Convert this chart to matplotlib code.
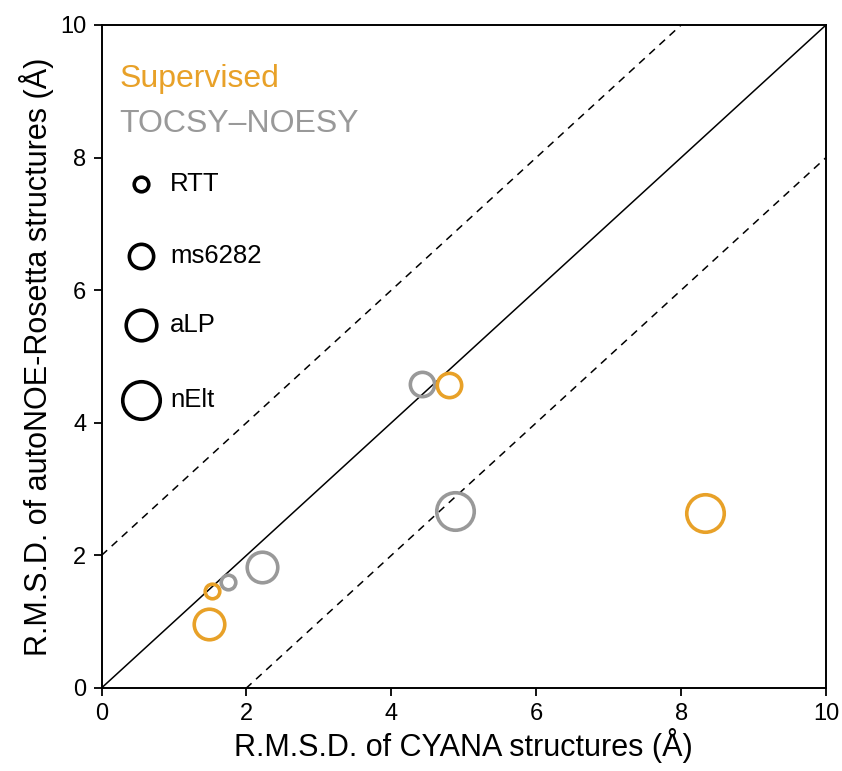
import matplotlib
matplotlib.use("Agg")
import matplotlib.pyplot as plt

plt.rcParams['font.family'] = ['Liberation Sans', 'DejaVu Sans']

# Per-protein backbone R.M.S.D. values (Å)
proteins = ["RTT", "ms6282", "aLP", "nElt"]
marker_sizes = [10.5, 17.5, 22, 27]

supervised_cyana = [1.52, 4.79, 1.49, 8.33]
supervised_auto = [1.46, 4.57, 0.96, 2.64]

tocsy_cyana = [1.75, 4.42, 2.22, 4.88]
tocsy_auto = [1.60, 4.59, 1.83, 2.67]

orange = "#E8A128"
grey = "#999999"

fig = plt.figure(figsize=(8.42, 7.71), dpi=100)
ax = fig.add_axes([101.5 / 842, (771 - 688) / 771, (826 - 101.5) / 842, (688 - 25) / 771])

ax.set_xlim(0, 10)
ax.set_ylim(0, 10)

# reference lines: identity and +/- 2 Å
xs = [0, 10]
ax.plot(xs, [0, 10], color="black", lw=1.1, zorder=1)
ax.plot(xs, [2, 12], color="black", lw=1.1, ls=(0, (5, 4)), zorder=1)
ax.plot(xs, [-2, 8], color="black", lw=1.1, ls=(0, (5, 4)), zorder=1)

for x, y, ms in zip(tocsy_cyana, tocsy_auto, marker_sizes):
    ax.plot(x, y, "o", ms=ms, mfc="none", mec=grey, mew=2.6, zorder=3)
for x, y, ms in zip(supervised_cyana, supervised_auto, marker_sizes):
    ax.plot(x, y, "o", ms=ms, mfc="none", mec=orange, mew=2.6, zorder=3)

# legend drawn as text and markers
ax.text(0.25, 9.18, "Supervised", color=orange, fontsize=23, va="center", ha="left")
ax.text(0.25, 8.5, "TOCSY\u2013NOESY", color=grey, fontsize=23, va="center", ha="left")
legend_y = [7.6, 6.52, 5.47, 4.35]
for name, ms, ly in zip(proteins, marker_sizes, legend_y):
    ax.plot(0.54, ly, "o", ms=ms, mfc="none", mec="black", mew=2.6, clip_on=False)
    ax.text(0.95, ly, name, fontsize=18.5, va="center", ha="left")

ax.set_xticks([0, 2, 4, 6, 8, 10])
ax.set_yticks([0, 2, 4, 6, 8, 10])
ax.tick_params(axis="both", labelsize=17, direction="out", length=6, width=1.3,
               top=False, right=False, pad=5)
for s in ax.spines.values():
    s.set_linewidth(1.4)

ax.set_xlabel("R.M.S.D. of CYANA structures (\u00c5)", fontsize=22, labelpad=2)
ax.set_ylabel("R.M.S.D. of autoNOE-Rosetta structures (\u00c5)", fontsize=22, labelpad=4)

fig.savefig("out.png", dpi=100)
